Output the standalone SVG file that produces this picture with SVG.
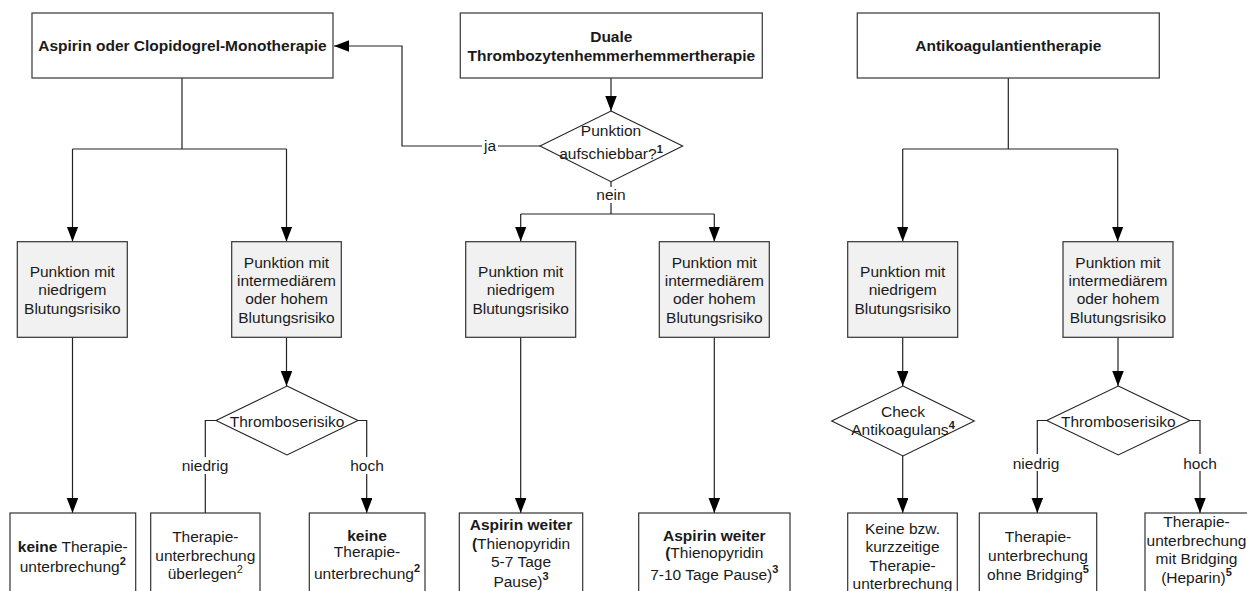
<svg xmlns="http://www.w3.org/2000/svg" width="1247" height="591" viewBox="0 0 1247 591">
<style>
text{font-family:"Liberation Sans",Arial,sans-serif;font-size:15.5px;fill:#1a1a1a;text-anchor:middle}
.b{font-weight:bold}
.sup{font-size:11px;font-weight:bold}
.supn{font-size:11px}
.top{fill:#fff;stroke:#444;stroke-width:1.3}
.mid{fill:#f1f1f1;stroke:#333;stroke-width:1.2}
.bot{fill:#fff;stroke:#333;stroke-width:1.2}
.dia{fill:#fff;stroke:#222;stroke-width:1.1}
.c{fill:none;stroke:#222;stroke-width:1.2}
.a{fill:none;stroke:#222;stroke-width:1.2;marker-end:url(#ah)}
.lb{fill:#fff;stroke:none}
</style>
<defs>
<marker id="ah" markerUnits="userSpaceOnUse" markerWidth="16" markerHeight="12" refX="15" refY="5.75" orient="auto">
<path d="M0,0 L15,5.75 L0,11.5 z" fill="#000"/>
</marker>
</defs>
<rect width="1247" height="591" fill="#fff"/>

<g id="connectors">
<path class="c" d="M182,78 V149 M72.5,149 H286.5"/>
<path class="a" d="M72.5,149 V241.5"/>
<path class="a" d="M286.5,149 V241.5"/>
<path class="a" d="M611,78 V111"/>
<path class="a" d="M540,146 H402 V46 H334"/>
<rect class="lb" x="482" y="137" width="16" height="17"/>
<text x="490" y="151">ja</text>
<path class="c" d="M611,182 V214 M520.7,214 H714.3"/>
<rect class="lb" x="594" y="187" width="34" height="16"/>
<text x="611" y="200">nein</text>
<path class="a" d="M520.7,214 V241.5"/>
<path class="a" d="M714.3,214 V241.5"/>
<path class="c" d="M1008.3,78 V149 M902.7,149 H1117.7"/>
<path class="a" d="M902.7,149 V241.5"/>
<path class="a" d="M1117.7,149 V241.5"/>
<path class="a" d="M72.5,337.5 V513"/>
<path class="a" d="M286.5,337.5 V386"/>
<path class="c" d="M216,420.5 H205.3 V513"/>
<rect class="lb" x="180" y="457" width="50" height="17"/>
<text x="205" y="471">niedrig</text>
<path class="a" d="M358,420.5 H366.7 V513"/>
<rect class="lb" x="349" y="457" width="36" height="17"/>
<text x="367" y="471">hoch</text>
<path class="a" d="M520.7,337.5 V513"/>
<path class="a" d="M714.3,337.5 V513"/>
<path class="a" d="M902.7,337.5 V386"/>
<path class="a" d="M902.7,456 V513"/>
<path class="a" d="M1118,337.5 V386"/>
<path class="a" d="M1047,420.5 H1037.3 V513"/>
<rect class="lb" x="1011" y="454" width="50" height="17"/>
<text x="1036" y="468.5">niedrig</text>
<path class="a" d="M1190,420.5 H1200 V513"/>
<rect class="lb" x="1182" y="454" width="36" height="17"/>
<text x="1200" y="468.5">hoch</text>
</g>

<g id="top-mono">
<rect class="top" x="32" y="13" width="301" height="65"/>
<text class="b" x="182.5" y="51">Aspirin oder Clopidogrel-Monotherapie</text>
</g>
<g id="top-dual">
<rect class="top" x="460.3" y="13" width="302" height="65"/>
<text class="b" x="611.3" y="42">Duale</text>
<text class="b" x="611.3" y="60.5">Thrombozytenhemmerhemmertherapie</text>
</g>
<g id="top-antikoag">
<rect class="top" x="857.3" y="13" width="302" height="65"/>
<text class="b" x="1008.3" y="51">Antikoagulantientherapie</text>
</g>

<g id="dec-aufschiebbar">
<polygon class="dia" points="611,111 682.7,146 611,181.7 540,146"/>
<text x="611" y="135.5">Punktion</text>
<text x="611" y="158.5">aufschiebbar?<tspan class="sup" dy="-6">1</tspan></text>
</g>

<g id="mono-low">
<rect class="mid" x="17.3" y="241.7" width="110" height="95.6"/>
<text x="72.3" y="277">Punktion mit</text>
<text x="72.3" y="295.3">niedrigem</text>
<text x="72.3" y="313.6">Blutungsrisiko</text>
</g>
<g id="mono-high">
<rect class="mid" x="231.7" y="241.7" width="109.6" height="95.6"/>
<text x="286.5" y="267.6">Punktion mit</text>
<text x="286.5" y="286">intermediärem</text>
<text x="286.5" y="304.3">oder hohem</text>
<text x="286.5" y="322.6">Blutungsrisiko</text>
</g>
<g id="dual-low">
<rect class="mid" x="465.7" y="241.7" width="110" height="95.6"/>
<text x="520.7" y="277">Punktion mit</text>
<text x="520.7" y="295.3">niedrigem</text>
<text x="520.7" y="313.6">Blutungsrisiko</text>
</g>
<g id="dual-high">
<rect class="mid" x="659.3" y="241.7" width="110" height="95.6"/>
<text x="714.3" y="267.6">Punktion mit</text>
<text x="714.3" y="286">intermediärem</text>
<text x="714.3" y="304.3">oder hohem</text>
<text x="714.3" y="322.6">Blutungsrisiko</text>
</g>
<g id="ak-low">
<rect class="mid" x="847.7" y="241.7" width="110" height="95.6"/>
<text x="902.7" y="277">Punktion mit</text>
<text x="902.7" y="295.3">niedrigem</text>
<text x="902.7" y="313.6">Blutungsrisiko</text>
</g>
<g id="ak-high">
<rect class="mid" x="1063" y="241.7" width="110" height="95.6"/>
<text x="1118" y="267.6">Punktion mit</text>
<text x="1118" y="286">intermediärem</text>
<text x="1118" y="304.3">oder hohem</text>
<text x="1118" y="322.6">Blutungsrisiko</text>
</g>

<g id="dec-thrombose-mono">
<polygon class="dia" points="287,386 358,420.5 287,455 216,420.5"/>
<text x="287" y="426.5">Thromboserisiko</text>
</g>
<g id="dec-check">
<polygon class="dia" points="903,386 974.3,421 903,456 831.7,421"/>
<text x="903" y="416.5">Check</text>
<text x="903" y="434.5">Antikoagulans<tspan class="sup" dy="-6">4</tspan></text>
</g>
<g id="dec-thrombose-ak">
<polygon class="dia" points="1118.3,386 1190,420.5 1118.3,455 1046.7,420.5"/>
<text x="1118.3" y="426.5">Thromboserisiko</text>
</g>

<g id="res-a">
<rect class="bot" x="10" y="513" width="125.7" height="90"/>
<text x="72.8" y="552"><tspan class="b">keine</tspan> Therapie-</text>
<text x="72.8" y="572">unterbrechung<tspan class="sup" dy="-7">2</tspan></text>
</g>
<g id="res-b">
<rect class="bot" x="150.7" y="513" width="109.3" height="90"/>
<text x="205.3" y="542">Therapie-</text>
<text x="205.3" y="560.5">unterbrechung</text>
<text x="205.3" y="579">überlegen<tspan class="supn" dy="-6">2</tspan></text>
</g>
<g id="res-c">
<rect class="bot" x="309.3" y="513" width="115.7" height="90"/>
<text class="b" x="367" y="540.5">keine</text>
<text x="367" y="557">Therapie-</text>
<text x="367" y="578.5">unterbrechung<tspan class="sup" dy="-7">2</tspan></text>
</g>
<g id="res-d">
<rect class="bot" x="459.3" y="513" width="123.4" height="90"/>
<text class="b" x="521" y="530">Aspirin weiter</text>
<text x="521" y="548.5"><tspan class="b">(</tspan>Thienopyridin</text>
<text x="521" y="567">5-7 Tage</text>
<text x="521" y="587">Pause)<tspan class="sup" dy="-7">3</tspan></text>
</g>
<g id="res-e">
<rect class="bot" x="638.7" y="513" width="151.3" height="90"/>
<text class="b" x="714.3" y="540.5">Aspirin weiter</text>
<text x="714.3" y="557.5"><tspan class="b">(</tspan>Thienopyridin</text>
<text x="714.3" y="579.5">7-10 Tage Pause)<tspan class="sup" dy="-7">3</tspan></text>
</g>
<g id="res-f">
<rect class="bot" x="847.7" y="513" width="109.6" height="90"/>
<text x="902.5" y="534">Keine bzw.</text>
<text x="902.5" y="552.3">kurzzeitige</text>
<text x="902.5" y="570.6">Therapie-</text>
<text x="902.5" y="589">unterbrechung</text>
</g>
<g id="res-g">
<rect class="bot" x="979.3" y="513" width="117.4" height="90"/>
<text x="1038" y="542">Therapie-</text>
<text x="1038" y="560.5">unterbrechung</text>
<text x="1038" y="580">ohne Bridging<tspan class="sup" dy="-7">5</tspan></text>
</g>
<g id="res-h">
<rect class="bot" x="1145" y="513" width="110" height="90"/>
<text x="1196.5" y="527">Therapie-</text>
<text x="1196.5" y="545.5">unterbrechung</text>
<text x="1196.5" y="563.5">mit Bridging</text>
<text x="1196.5" y="583">(Heparin)<tspan class="sup" dy="-7">5</tspan></text>
</g>
</svg>
